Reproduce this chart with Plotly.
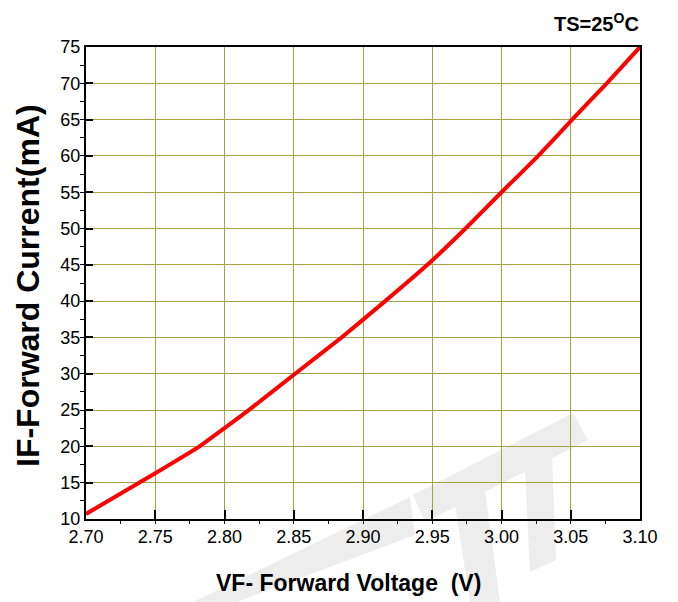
import plotly.graph_objects as go

# Forward voltage (V) vs forward current (mA)
vf = [2.70, 2.75, 2.782, 2.80, 2.8175, 2.851, 2.8845, 2.916, 2.9465, 2.974, 3.00, 3.0265, 3.051, 3.076, 3.10]
i_f = [10.7, 16.3, 20.0, 22.5, 25.0, 30.0, 35.0, 40.0, 45.0, 50.0, 55.0, 60.0, 65.0, 70.0, 75.0]

x_ticks = [2.70, 2.75, 2.80, 2.85, 2.90, 2.95, 3.00, 3.05, 3.10]
x_labels = ["2.70", "2.75", "2.80", "2.85", "2.90", "2.95", "3.00", "3.05", "3.10"]
y_ticks = list(range(10, 80, 5))

W, H = 678, 602
L, R, T, B = 86, 38, 47, 83
PW, PH = W - L - R, H - T - B


def paper(px, py):
    return (px - L) / PW, (H - B - py) / PH


fig = go.Figure()
fig.add_trace(go.Scatter(x=vf, y=i_f, mode="lines",
                         line=dict(color="#ff0000", width=4, shape="spline", smoothing=0.3),
                         showlegend=False, hoverinfo="x+y"))

# faint watermark behind the plot
wm = [
    [(193, 602), (237, 602), (415, 535), (410, 497)],
    [(413, 495), (573, 413), (588, 440), (425, 522)],
    [(525, 470), (552, 456), (556, 560), (530, 572)],
    [(455, 505), (485, 490), (500, 602), (470, 602)],
]
for poly in wm:
    path = ""
    for k, (px, py) in enumerate(poly):
        xp, yp = paper(px, py)
        path += ("M" if k == 0 else "L") + f"{xp:.4f},{yp:.4f} "
    fig.add_shape(type="path", path=path + "Z", xref="paper", yref="paper",
                  fillcolor="#ededed", line=dict(width=0), layer="below")

tick_font = dict(family="Liberation Sans, Arial", size=18, color="black")
grid = "#a3a343"

fig.update_xaxes(range=[2.70, 3.10], tickvals=x_ticks, ticktext=x_labels,
                 showgrid=True, gridcolor=grid, gridwidth=1,
                 showline=True, linecolor="black", linewidth=2, mirror=True,
                 ticks="inside", ticklen=9, tickwidth=2, tickcolor="black",
                 minor=dict(dtick=0.025, ticks="outside", ticklen=3, tickwidth=1,
                            tickcolor="black", showgrid=False),
                 tickfont=tick_font, zeroline=False, automargin=False)
fig.update_yaxes(range=[10, 75], tickvals=y_ticks,
                 showgrid=True, gridcolor=grid, gridwidth=1,
                 showline=True, linecolor="black", linewidth=2, mirror=True,
                 ticks="inside", ticklen=7, tickwidth=2, tickcolor="black",
                 minor=dict(dtick=2.5, ticks="outside", ticklen=4, tickwidth=1,
                            tickcolor="black", showgrid=False),
                 tickfont=tick_font, zeroline=False, automargin=False)

# axis titles and condition label
title_font = "Liberation Sans, Arial"
xt = paper(348, 583)
fig.add_annotation(text="<b>VF- Forward Voltage  (V)</b>", xref="paper", yref="paper",
                   x=xt[0], y=xt[1], xanchor="center", yanchor="middle", showarrow=False,
                   font=dict(family=title_font, size=23, color="black"))
yt = paper(28, 286)
fig.add_annotation(text="<b>IF-Forward Current(mA)</b>", xref="paper", yref="paper",
                   x=yt[0], y=yt[1], xanchor="center", yanchor="middle", showarrow=False,
                   textangle=-90, font=dict(family=title_font, size=32, color="black"))
tt = paper(641, 22)
fig.add_annotation(text="<b>TS=25<sup>O</sup>C</b>", xref="paper", yref="paper",
                   x=tt[0], y=tt[1], xanchor="right", yanchor="middle", showarrow=False,
                   font=dict(family=title_font, size=20, color="black"))

fig.update_layout(width=W, height=H, plot_bgcolor="white", paper_bgcolor="white",
                  margin=dict(l=L, r=R, t=T, b=B))

# page body has a default 8px margin; drop it so the figure fills the window
fig.write_html("out.html", config={"displayModeBar": False},
               post_script="document.body.style.margin='0';")
